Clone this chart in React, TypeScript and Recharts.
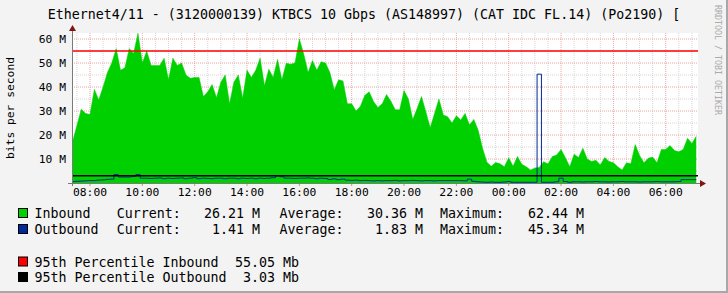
import { Area, CartesianGrid, ComposedChart, Line, ReferenceLine, XAxis, YAxis } from 'recharts';

// 10-minute samples starting 07:20, values in Mbit/s
const START = 7 + 20 / 60;
const STEP = 1 / 6;

const inbound = [
  17.2, 24, 30.7, 29, 28.5, 39, 34.6, 40, 46, 50,
  56, 47, 48, 56, 54, 62.4, 50, 55, 49, 49,
  49, 52, 43, 52, 49, 50, 45, 43.6, 44, 44,
  36, 38, 41, 35.5, 42, 45, 33,
  42, 45, 35.3, 47, 44, 47, 52, 40.5, 47.4, 44,
  51.5, 43, 49.9, 49.5, 50, 60, 53.75, 46, 51, 47, 50.5, 50,
  46, 38.8, 43, 42.5, 33, 33, 30, 32, 36.5, 38, 34, 31.5, 33,
  36.9, 34, 30.5, 30.5, 38.5, 35, 26.5, 31, 36, 29.7, 23, 29, 35, 28.3, 27.6, 25, 28, 26.25, 29,
  24.2, 26.5, 22, 14.5, 8.6, 7, 8.5, 8, 6.8, 10.5, 7, 11, 7.8, 6.8, 5.4, 6.2, 6.5, 8.9,
  7.9, 11, 11.7, 14, 10.5, 6.8, 12, 10.6, 14.5, 10, 9, 9.5, 7.5, 10.6, 9, 8.4, 6.8, 5.4, 8.4, 8,
  16, 11.5, 8.4, 10.3, 10.8, 8.4, 14, 14, 15.6, 13.5, 13, 14, 18.6, 16.5, 19.5,
];

const outbound = [
  0.6, 0.7, 0.8, 0.9, 1.0, 1.0, 1.2, 1.3, 1.5, 1.6,
  3.5, 2.5, 2.5, 2.5, 2.7, 3.5, 2, 2, 1.9, 2,
  2.1, 1.8, 2, 1.9, 2, 2.1, 1.8, 2, 2.2, 1.8,
  2, 1.9, 1.8, 2, 2, 1.8, 2,
  2, 1.8, 2, 1.9, 2, 1.8, 2, 1.9, 2, 2.2,
  2.9, 2.6, 2, 2, 1.9, 2, 2, 2.1, 2, 1.8, 2, 1.9,
  1.5, 1.7, 1.4, 1.6, 1.2, 1.1, 1.2, 1, 1.1, 1, 0.9, 1, 0.9,
  1, 1, 1.1, 0.9, 1, 1, 1.1, 1, 0.9, 1, 1, 0.9, 1, 1, 1, 1, 1, 1, 0.9,
  1.6, 0.7, 0.5, 0.4, 0.3, 0.4, 0.3, 0.3, 0.4, 0.6, 0.3, 0.3, 0.3, 0.3, 0.3, 0.3, 45.34, 0.3,
  0.3, 0.3, 0.5, 2, 0.6, 0.3, 0.5, 0.5, 0.4, 0.5, 0.5, 0.6, 0.5, 0.5, 0.4, 0.5, 0.5, 0.6, 0.5, 0.5,
  0.5, 0.4, 0.5, 0.5, 0.5, 0.6, 0.5, 0.5, 0.5, 0.5, 0.6, 1.4, 1.4, 1.4, 1.41,
];

const yMajor = [10, 20, 30, 40, 50, 60];
const yMinor = [5, 15, 25, 35, 45, 55];
const xTicks = [8, 10, 12, 14, 16, 18, 20, 22, 24, 26, 28, 30];
const xMinor = [7.5, 8.5, 9, 9.5, 10.5, 11, 11.5, 12.5, 13, 13.5, 14.5, 15, 15.5, 16.5, 17, 17.5, 18.5, 19, 19.5,
  20.5, 21, 21.5, 22.5, 23, 23.5, 24.5, 25, 25.5, 26.5, 27, 27.5, 28.5, 29, 29.5, 30.5, 31];

const pct95In = 55.05;
const pct95Out = 3.03;

const title = 'Ethernet4/11 - (3120000139) KTBCS 10 Gbps (AS148997) (CAT IDC FL.14) (Po2190) [';

const legendRows = [
  { label: 'Inbound', color: '#00CF00', current: '26.21 M', average: '30.36 M', maximum: '62.44 M' },
  { label: 'Outbound', color: '#002A97', current: '1.41 M', average: '1.83 M', maximum: '45.34 M' },
];
const pctRows = [
  { label: '95th Percentile Inbound', color: '#FF0000', value: '55.05 Mb' },
  { label: '95th Percentile Outbound', color: '#000000', value: '3.03 Mb' },
];

const rows = inbound.map((v, i) => ({ t: START + i * STEP, in: v, out: outbound[i] }));

const MONO = '"DejaVu Sans Mono", monospace';
const AXIS = '#7a7a7a';
const ARROW = '#7f1515';

const fmtHour = (v: number) => `${String(v % 24).padStart(2, '0')}:00`;

export default function App() {
  const legendY = [218, 234];
  const pctY = [266.5, 282];
  return (
    <div style={{ position: 'relative', width: 728, height: 293, background: '#F3F3F3' }}>
      <style>{'body{margin:0}'}</style>
      <ComposedChart width={728} height={293} data={rows} margin={{ top: 33, right: 30, left: 0, bottom: 0 }}>
        <CartesianGrid fill="#FFFFFF" fillOpacity={1} stroke="#d6d6d6" strokeDasharray="1 1"
          horizontalValues={yMinor} verticalValues={xMinor} />
        <CartesianGrid stroke="#eba5a5" strokeDasharray="1 1"
          horizontalValues={yMajor} verticalValues={xTicks} />
        <XAxis dataKey="t" type="number" domain={[7.312, 31.233]} allowDataOverflow ticks={xTicks}
          tickFormatter={fmtHour} height={110} tickSize={3} tickMargin={2} axisLine={false}
          tickLine={{ stroke: '#d88' }} interval={0}
          tick={{ fontFamily: MONO, fontSize: 11.3, fill: '#000' }} />
        <YAxis type="number" domain={[0, 62.5]} allowDataOverflow ticks={[0, ...yMajor]} width={72}
          tickFormatter={(v: number) => (v === 0 ? '' : `${v} M`)} tickSize={0} tickMargin={6}
          axisLine={false} tickLine={false} interval={0}
          tick={{ fontFamily: MONO, fontSize: 11.3, fill: '#000' }} />
        <Area dataKey="in" type="linear" fill="#00CF00" fillOpacity={1} stroke="#00CF00" strokeWidth={0.5}
          isAnimationActive={false} />
        <ReferenceLine y={pct95In} stroke="#FF0000" strokeWidth={1.5} />
        <Line dataKey="out" type="step" stroke="#002A97" strokeWidth={1} dot={false} isAnimationActive={false} />
        <ReferenceLine y={pct95Out} stroke="#000000" strokeWidth={1.5} />
      </ComposedChart>
      <svg width={728} height={293} style={{ position: 'absolute', left: 0, top: 0, pointerEvents: 'none' }}>
        <text x={364} y={18.5} textAnchor="middle" fontFamily={MONO} fontSize={13.3} fill="#000">{title}</text>
        <text transform="translate(14,108) rotate(-90)" textAnchor="middle" fontFamily={MONO} fontSize={11.3} fill="#000">
          bits per second
        </text>
        <text transform="translate(715,5) rotate(90)" fontFamily={MONO} fontSize={8.3} fill="#aaaaaa">
          RRDTOOL / TOBI OETIKER
        </text>
        {/* axes and arrows */}
        <line x1={72.5} y1={186} x2={72.5} y2={31} stroke={AXIS} strokeWidth={1} />
        <line x1={68} y1={183.5} x2={700} y2={183.5} stroke={AXIS} strokeWidth={1} />
        <polygon points="69,31 76,31 72.5,25" fill={ARROW} />
        <polygon points="700,180 700,187 706,183.5" fill={ARROW} />
        {legendRows.map((r, i) => (
          <g key={r.label} fontFamily={MONO} fontSize={13.3} fill="#000">
            <rect x={18.5} y={legendY[i] - 9.5} width={9} height={9} fill={r.color} stroke="#000" strokeWidth={1} />
            <text x={34.4} y={legendY[i]}>{r.label}</text>
            <text x={116.7} y={legendY[i]}>Current:</text>
            <text x={260} y={legendY[i]} textAnchor="end">{r.current}</text>
            <text x={279.4} y={legendY[i]}>Average:</text>
            <text x={423} y={legendY[i]} textAnchor="end">{r.average}</text>
            <text x={440} y={legendY[i]}>Maximum:</text>
            <text x={584} y={legendY[i]} textAnchor="end">{r.maximum}</text>
          </g>
        ))}
        {pctRows.map((r, i) => (
          <g key={r.label} fontFamily={MONO} fontSize={13.3} fill="#000">
            <rect x={18.5} y={pctY[i] - 9.5} width={9} height={9} fill={r.color} stroke="#000" strokeWidth={1} />
            <text x={34.4} y={pctY[i]}>{r.label}</text>
            <text x={299} y={pctY[i]} textAnchor="end">{r.value}</text>
          </g>
        ))}
        <rect x={726} y={0} width={2} height={293} fill="#a8a8a8" />
        <rect x={0} y={291} width={728} height={2} fill="#a8a8a8" />
      </svg>
    </div>
  );
}
